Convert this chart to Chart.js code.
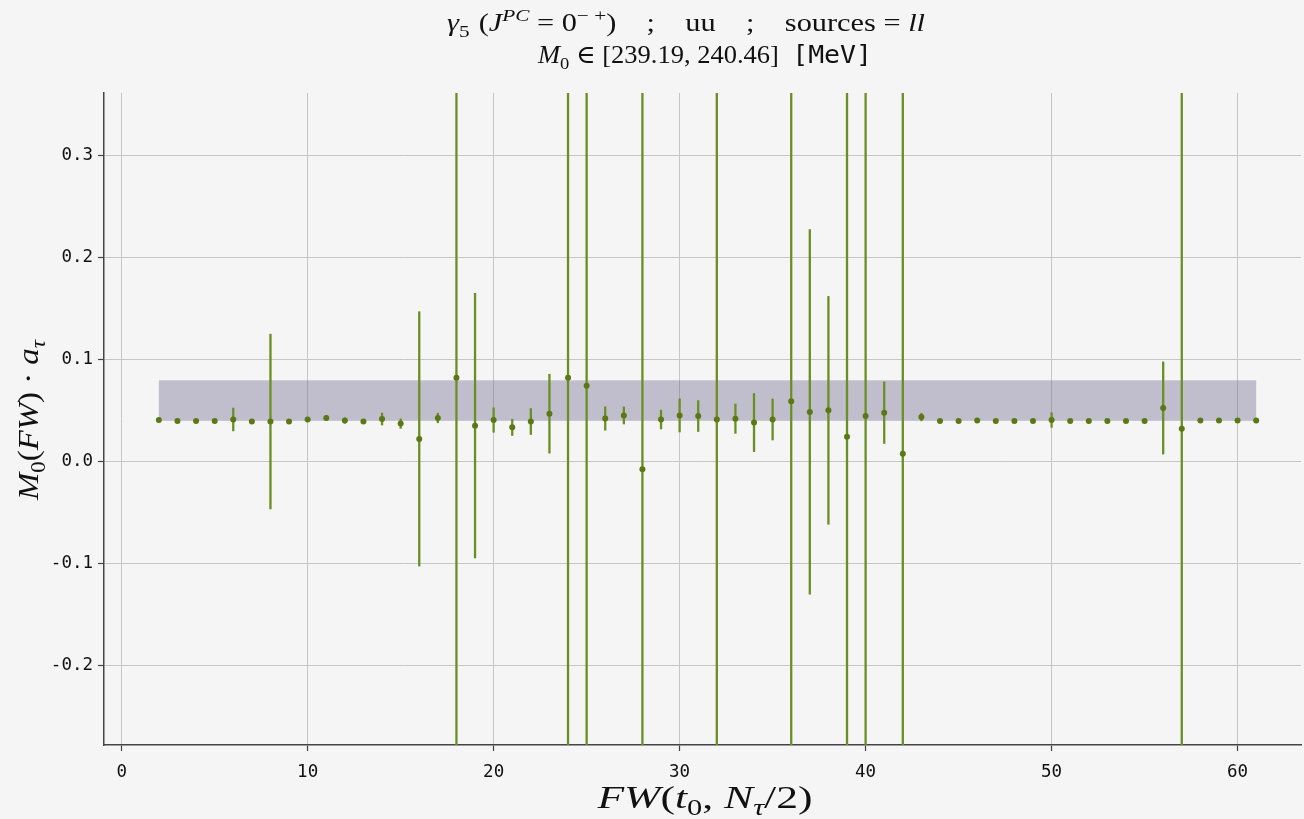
<!DOCTYPE html>
<html>
<head>
<meta charset="utf-8">
<script src="https://cdn.jsdelivr.net/npm/chart.js@4/dist/chart.umd.min.js"></script>
<style>
  html, body { margin: 0; padding: 0; background: #f5f5f5; }
  canvas { display: block; }
</style>
</head>
<body>
<canvas id="fwChart" width="1304" height="819"></canvas>
<script>
// FW(t0, Ntau/2) values and their effective mass with errors
const fwValues = [2, 3, 4, 5, 6, 7, 8, 9, 10, 11, 12, 13, 14, 15, 16, 17, 18, 19, 20, 21,
                  22, 23, 24, 25, 26, 27, 28, 29, 30, 31, 32, 33, 34, 35, 36, 37, 38, 39, 40, 41,
                  42, 43, 44, 45, 46, 47, 48, 49, 50, 51, 52, 53, 54, 55, 56, 57, 58, 59, 60, 61];
const massValues = [0.0405, 0.0395, 0.0395, 0.0395, 0.041, 0.039, 0.039, 0.039, 0.041, 0.0425,
                    0.040, 0.039, 0.0415, 0.037, 0.022, 0.0425, 0.082, 0.035, 0.0405, 0.0333,
                    0.039, 0.0467, 0.082, 0.074, 0.042, 0.045, -0.0078, 0.041, 0.045, 0.0444,
                    0.041, 0.0418, 0.038, 0.041, 0.0588, 0.0484, 0.050, 0.0242, 0.0444, 0.0477,
                    0.0075, 0.0434, 0.0395, 0.0395, 0.040, 0.0395, 0.0395, 0.0395, 0.0405, 0.0395,
                    0.0395, 0.0395, 0.0395, 0.0395, 0.0523, 0.032, 0.040, 0.040, 0.040, 0.040];
const massErrors = [0.001, 0.001, 0.001, 0.001, 0.0115, 0.001, 0.086, 0.001, 0.001, 0.0027,
                    0.003, 0.001, 0.0062, 0.005, 0.125, 0.005, 1.0, 0.13, 0.0123, 0.0083,
                    0.013, 0.039, 1.0, 1.0, 0.0118, 0.0087, 1.0, 0.0096, 0.0165, 0.0155,
                    1.0, 0.0147, 0.0288, 0.0204, 1.0, 0.179, 0.112, 1.0, 1.0, 0.0305,
                    1.0, 0.004, 0.001, 0.001, 0.001, 0.001, 0.001, 0.001, 0.0075, 0.001,
                    0.001, 0.001, 0.001, 0.001, 0.0455, 1.0, 0.001, 0.001, 0.001, 0.001];

// plateau band
const bandRangeX = [2, 61];
const bandRangeY = [0.0397, 0.0794];

const xTicks = [0, 10, 20, 30, 40, 50, 60];
const yTicks = [-0.2, -0.1, 0.0, 0.1, 0.2, 0.3];

const SERIF = '"Liberation Serif", "DejaVu Serif", serif';
const MONO = '"DejaVu Sans Mono", monospace';
const OLIVE = '#6b8e23';

// draw text made of pieces: roman, italic, sub/sup, mono; 'gap' adds blank space (em)
// width: stretch the whole line to that width (CM fonts are wider than Times)
function richText(ctx, parts, x, y, size, width) {
  const styled = parts.map(([t, s]) => {
    if (s === 'gap') return { gap: true, w: t * size };
    let fs = size, dy = 0, font;
    if (s.startsWith('sub') || s.startsWith('sup')) fs = size * 0.7;
    if (s.startsWith('sub')) dy = size * 0.22;
    if (s.startsWith('sup')) dy = -size * 0.42;
    if (s === 'mono') font = fs + 'px ' + MONO;
    else if (s === 'i' || s.endsWith('i')) font = 'italic ' + fs + 'px ' + SERIF;
    else font = fs + 'px ' + SERIF;
    ctx.font = font;
    return { t, font, dy, w: ctx.measureText(t).width };
  });
  const total = styled.reduce((a, p) => a + p.w, 0);
  const sx = width ? width / total : 1;
  ctx.save();
  ctx.translate(x - total * sx / 2, y);
  ctx.scale(sx, 1);
  ctx.textAlign = 'left';
  ctx.textBaseline = 'alphabetic';
  let cx = 0;
  styled.forEach(p => {
    if (!p.gap) {
      ctx.font = p.font;
      ctx.fillText(p.t, cx, p.dy);
    }
    cx += p.w;
  });
  ctx.restore();
}

const decorations = {
  id: 'decorations',
  beforeDatasetsDraw(chart) {
    const { ctx, chartArea, scales: { x, y } } = chart;
    ctx.save();
    ctx.beginPath();
    ctx.rect(chartArea.left, chartArea.top, chartArea.right - chartArea.left, chartArea.bottom - chartArea.top);
    ctx.clip();
    // band
    const bx0 = x.getPixelForValue(bandRangeX[0]);
    const bx1 = x.getPixelForValue(bandRangeX[1]);
    const by0 = y.getPixelForValue(bandRangeY[1]);
    const by1 = y.getPixelForValue(bandRangeY[0]);
    ctx.fillStyle = 'rgba(100, 95, 132, 0.36)';
    ctx.fillRect(bx0, by0, bx1 - bx0, by1 - by0);
    // error bars
    ctx.strokeStyle = OLIVE;
    ctx.lineWidth = 2.3;
    fwValues.forEach((fw, i) => {
      const px = x.getPixelForValue(fw);
      ctx.beginPath();
      ctx.moveTo(px, y.getPixelForValue(massValues[i] + massErrors[i]));
      ctx.lineTo(px, y.getPixelForValue(massValues[i] - massErrors[i]));
      ctx.stroke();
    });
    ctx.restore();
  },
  afterDraw(chart) {
    const { ctx } = chart;
    ctx.save();
    ctx.fillStyle = '#111';
    richText(ctx, [['γ', 'i'], ['5', 'sub'], [0.3, 'gap'], ['(', 'r'], ['J', 'i'], ['PC', 'supi'], [' = 0', 'r'], ['− +', 'sup'],
                   [')', 'r'], [1.0, 'gap'], [';', 'r'], [1.0, 'gap'], ['uu', 'r'], [1.0, 'gap'], [';', 'r'], [1.0, 'gap'],
                   ['sources = ', 'r'], ['ll', 'i']], 686, 31, 25, 478);
    richText(ctx, [['M', 'i'], ['0', 'sub'], [' ∈ [239.19, 240.46]', 'r'], [0.5, 'gap'], ['[MeV]', 'mono']], 705, 63, 25, 334);
    richText(ctx, [['FW', 'i'], ['(', 'r'], ['t', 'i'], ['0', 'sub'], [', ', 'r'], ['N', 'i'], ['τ', 'subi'], ['/2)', 'r']],
             705, 808, 32, 215);
    ctx.translate(38, 420);
    ctx.rotate(-Math.PI / 2);
    richText(ctx, [['M', 'i'], ['0', 'sub'], ['(', 'r'], ['FW', 'i'], [')', 'r'], [0.25, 'gap'], ['·', 'r'], [0.25, 'gap'],
                   ['a', 'i'], ['τ', 'subi']], 0, 0, 30, 160);
    ctx.restore();
  }
};

const ctx = document.getElementById('fwChart').getContext('2d');

new Chart(ctx, {
  type: 'scatter',
  data: {
    datasets: [{
      data: fwValues.map((fw, i) => ({ x: fw, y: massValues[i] })),
      backgroundColor: '#5a7814',
      borderWidth: 0,
      pointRadius: 3,
      pointHoverRadius: 3
    }]
  },
  options: {
    responsive: false,
    animation: false,
    events: [],
    layout: { padding: { top: 93, left: 0, right: 0, bottom: 0 } },
    plugins: { legend: { display: false }, tooltip: { enabled: false }, title: { display: false } },
    scales: {
      x: {
        type: 'linear',
        min: -0.95,
        max: 63.41,
        afterBuildTicks: s => { s.ticks = xTicks.map(v => ({ value: v })); },
        afterFit: s => { s.height = 74; },
        grid: { color: '#c6c6c6', lineWidth: 1, tickLength: 6, tickColor: '#444', tickWidth: 1.2 },
        border: { display: true, color: '#444', width: 1.5 },
        ticks: { color: '#111', padding: 11, maxRotation: 0, font: { family: MONO, size: 17.5 },
                 callback: v => String(v) }
      },
      y: {
        type: 'linear',
        min: -0.278,
        max: 0.361,
        afterBuildTicks: s => { s.ticks = yTicks.map(v => ({ value: v })); },
        afterFit: s => { s.width = 104; },
        grid: { color: '#c6c6c6', lineWidth: 1, tickLength: 6, tickColor: '#444', tickWidth: 1.2 },
        border: { display: true, color: '#444', width: 1.5 },
        ticks: { color: '#111', padding: 5, font: { family: MONO, size: 17.5 },
                 callback: v => v.toFixed(1) }
      }
    }
  },
  plugins: [decorations]
});
</script>
</body>
</html>
